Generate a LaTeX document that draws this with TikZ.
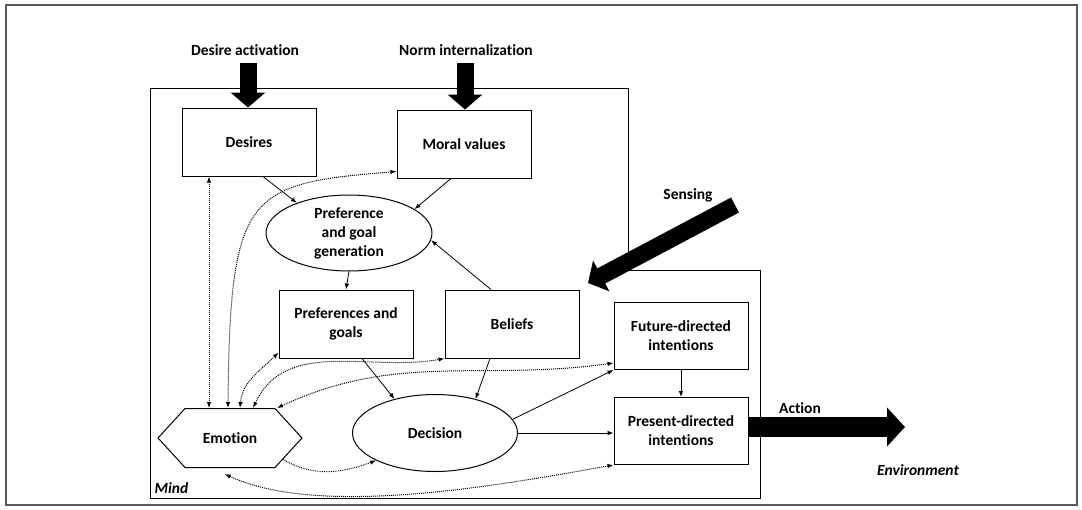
\documentclass[tikz,border=0pt]{standalone}
\usepackage{fontspec}
\setmainfont{Carlito}[Ligatures=NoCommon]
\usetikzlibrary{arrows.meta,shapes.geometric,shapes.symbols}
\begin{document}
\begin{tikzpicture}[x=1pt,y=-1pt,
  font=\fontsize{15.5}{19}\selectfont\bfseries,
  box/.style={draw,line width=1pt,minimum width=134pt,minimum height=68pt,align=center,inner sep=2pt},
  oval/.style={draw,ellipse,line width=1pt,align=center,inner sep=1pt},
  link/.style={-{Latex[length=6pt,width=4.5pt]},line width=0.8pt},
  dots/.style={densely dotted,line width=1pt,{Latex[length=6pt,width=4.5pt]}-{Latex[length=6pt,width=4.5pt]}},
  bigarrow/.style={line width=17pt,-{Triangle[length=15pt,width=34pt]}},
  note/.style={font=\fontsize{15.5}{17}\selectfont\bfseries\itshape}]

\useasboundingbox (0,0) rectangle (1082,509);

% outline
\draw[line width=1.5pt,draw=black!65] (6,5) rectangle (1077,505);
\draw[line width=1pt] (150,88) -| (628,270) -| (760,498) -- (150,498) -- cycle;

% boxes of the mind
\node[box] (desires) at (249,142) {Desires};
\node[box] (moral) at (464,144) {Moral values};
\node[oval,minimum width=166pt,minimum height=76pt] (prefgen) at (349,233) {Preference\\and goal\\generation};
\node[box] (prefs) at (346,324) {Preferences and\\goals};
\node[box] (beliefs) at (512,324) {Beliefs};
\node[box,minimum height=67pt] (future) at (681,336) {Future-directed\\intentions};
\node[box,minimum height=67pt] (present) at (681,431) {Present-directed\\intentions};
\node[draw,line width=1pt,signal,signal to=west and east,signal pointer angle=95,
      minimum width=144pt,minimum height=59pt] (emotion) at (230,438) {Emotion};
\node[oval,minimum width=165pt,minimum height=77pt] (decision) at (435,433) {Decision};

% labels
\node (desact) at (245,50) {Desire activation};
\node (normint) at (466,50) {Norm internalization};
\node (sensing) at (688,195) {Sensing};
\node (action) at (800,408) {Action};
\node[note] (envlbl) at (918,470) {Environment};
\node[note,anchor=west] (mind) at (151,488) {Mind};

% thick arrows
\coordinate (desin) at (248,63);
\coordinate (normin) at (465,63);
\coordinate (sensein) at (735,205);
\coordinate (sensetip) at (588,283);
\coordinate (env) at (905,427);
\draw[bigarrow] (desin) -- (desin |- desires.north);
\draw[bigarrow] (normin) -- (normin |- moral.north);
\draw[bigarrow] (sensein) -- (sensetip);
\draw[line width=20pt,-{Triangle[length=18pt,width=38pt]}] ([yshift=4pt]present.east) -- (env);

% solid links
\draw[link] ([xshift=14pt]desires.south) -- (prefgen.150);
\draw[link] ([xshift=-13pt]moral.south) -- (prefgen.20);
\draw[link] ([xshift=-21pt]beliefs.north) -- (prefgen.-5);
\draw[link] (prefgen.south) -- (prefs.north);
\draw[link] ([xshift=16pt]prefs.south) -- (decision.140);
\draw[link] ([xshift=-22pt]beliefs.south) -- (decision.40);
\draw[link] (decision.10) -- (future.south west);
\draw[link] (decision.east) -- (decision.east -| present.west);
\draw[link] (future.south) -- (present.north);

% dotted links with emotion
\draw[dots] ([xshift=-40pt]desires.south) -- ([xshift=-40pt]desires.south |- emotion.north);
\draw[dots] ([xshift=-2pt]emotion.north) .. controls +(2,-215) and +(-150,12) .. ([yshift=7pt]moral.south west);
\draw[dots] ([xshift=10pt]emotion.north) to[out=85,in=225] ([yshift=6pt]prefs.south west);
\draw[dots] ([xshift=23pt]emotion.north) to[out=65,in=190] (beliefs.south west);
\draw[dots] ([xshift=47pt]emotion.north) to[out=25,in=188] ([yshift=7pt]future.south west);
\draw[link,densely dotted,line width=1pt] (emotion.-22) to[out=-30,in=-160] (decision.-155);
\draw[dots] (present.south west) to[out=190,in=-25,looseness=0.7] ([yshift=-6pt]emotion.-100);
\end{tikzpicture}
\end{document}
